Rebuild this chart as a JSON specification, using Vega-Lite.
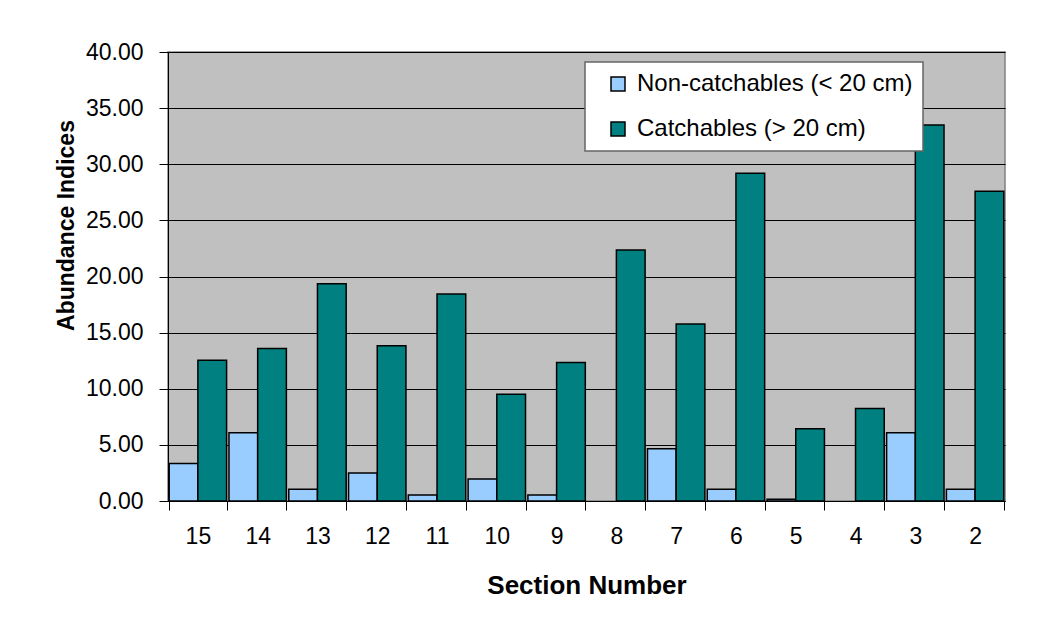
{
  "$schema": "https://vega.github.io/schema/vega-lite/v6.json",
  "autosize": "none",
  "width": 837,
  "height": 449,
  "padding": {"left": 168, "top": 52, "right": 50, "bottom": 133},
  "background": "white",
  "data": {
    "values": [
      {"section": "15", "series": "Non-catchables (< 20 cm)", "value": 3.35},
      {"section": "15", "series": "Catchables (> 20 cm)", "value": 12.55},
      {"section": "14", "series": "Non-catchables (< 20 cm)", "value": 6.08},
      {"section": "14", "series": "Catchables (> 20 cm)", "value": 13.59},
      {"section": "13", "series": "Non-catchables (< 20 cm)", "value": 1.04},
      {"section": "13", "series": "Catchables (> 20 cm)", "value": 19.35},
      {"section": "12", "series": "Non-catchables (< 20 cm)", "value": 2.49},
      {"section": "12", "series": "Catchables (> 20 cm)", "value": 13.83},
      {"section": "11", "series": "Non-catchables (< 20 cm)", "value": 0.53},
      {"section": "11", "series": "Catchables (> 20 cm)", "value": 18.43},
      {"section": "10", "series": "Non-catchables (< 20 cm)", "value": 1.96},
      {"section": "10", "series": "Catchables (> 20 cm)", "value": 9.5},
      {"section": "9", "series": "Non-catchables (< 20 cm)", "value": 0.53},
      {"section": "9", "series": "Catchables (> 20 cm)", "value": 12.34},
      {"section": "8", "series": "Catchables (> 20 cm)", "value": 22.37},
      {"section": "7", "series": "Non-catchables (< 20 cm)", "value": 4.66},
      {"section": "7", "series": "Catchables (> 20 cm)", "value": 15.76},
      {"section": "6", "series": "Non-catchables (< 20 cm)", "value": 1.04},
      {"section": "6", "series": "Catchables (> 20 cm)", "value": 29.2},
      {"section": "5", "series": "Non-catchables (< 20 cm)", "value": 0.15},
      {"section": "5", "series": "Catchables (> 20 cm)", "value": 6.44},
      {"section": "4", "series": "Catchables (> 20 cm)", "value": 8.25},
      {"section": "3", "series": "Non-catchables (< 20 cm)", "value": 6.08},
      {"section": "3", "series": "Catchables (> 20 cm)", "value": 33.5},
      {"section": "2", "series": "Non-catchables (< 20 cm)", "value": 1.04},
      {"section": "2", "series": "Catchables (> 20 cm)", "value": 27.6}
    ]
  },
  "mark": {"type": "bar", "stroke": "black", "strokeWidth": 1.5},
  "encoding": {
    "x": {
      "field": "section",
      "type": "nominal",
      "sort": ["15", "14", "13", "12", "11", "10", "9", "8", "7", "6", "5", "4", "3", "2"],
      "scale": {"paddingInner": 0.04, "paddingOuter": 0.02},
      "axis": {
        "title": "Section Number",
        "labelAngle": 0,
        "tickBand": "extent",
        "tickSize": 9,
        "labelPadding": 15,
        "titleFontSize": 26,
        "titleFontWeight": "bold",
        "titleBaseline": "alphabetic",
        "titleY": 92
      }
    },
    "xOffset": {
      "field": "series",
      "type": "nominal",
      "sort": ["Non-catchables (< 20 cm)", "Catchables (> 20 cm)"],
      "scale": {"paddingInner": 0, "paddingOuter": 0}
    },
    "y": {
      "field": "value",
      "type": "quantitative",
      "scale": {"domain": [0, 40], "nice": false},
      "axis": {
        "title": "Abundance Indices",
        "values": [0, 5, 10, 15, 20, 25, 30, 35, 40],
        "format": ".2f",
        "tickSize": 9,
        "labelPadding": 16,
        "titleFontSize": 23,
        "titleFontWeight": "bold",
        "titleBaseline": "alphabetic",
        "titleX": -95,
        "titleY": 173,
        "titleAngle": -90
      }
    },
    "color": {
      "field": "series",
      "type": "nominal",
      "scale": {
        "domain": ["Non-catchables (< 20 cm)", "Catchables (> 20 cm)"],
        "range": ["#99CCFF", "#008080"]
      },
      "legend": {
        "title": null,
        "orient": "none",
        "legendX": 417,
        "legendY": 10,
        "fillColor": "white",
        "strokeColor": "#666666",
        "padding": 10,
        "symbolType": "square",
        "symbolSize": 196,
        "symbolStrokeColor": "black",
        "symbolStrokeWidth": 1.5,
        "symbolOffset": 11,
        "labelOffset": 7,
        "labelFontSize": 24,
        "labelColor": "black",
        "rowPadding": 21,
        "labelLimit": 400,
        "encode": {"legend": {"update": {"strokeWidth": {"value": 1.5}}}}
      }
    }
  },
  "config": {
    "font": "Liberation Sans",
    "view": {"fill": "#C0C0C0", "stroke": "#808080", "strokeWidth": 1.5},
    "axis": {
      "labelFont": "Liberation Sans",
      "titleFont": "Liberation Sans",
      "labelFontSize": 23,
      "labelColor": "black",
      "titleColor": "black",
      "domainColor": "black",
      "domainWidth": 1,
      "tickColor": "black",
      "tickWidth": 1,
      "gridColor": "black",
      "gridWidth": 1,
      "gridOpacity": 1
    },
    "axisX": {"grid": false},
    "axisY": {"grid": true},
    "legend": {"labelFont": "Liberation Sans"}
  }
}
